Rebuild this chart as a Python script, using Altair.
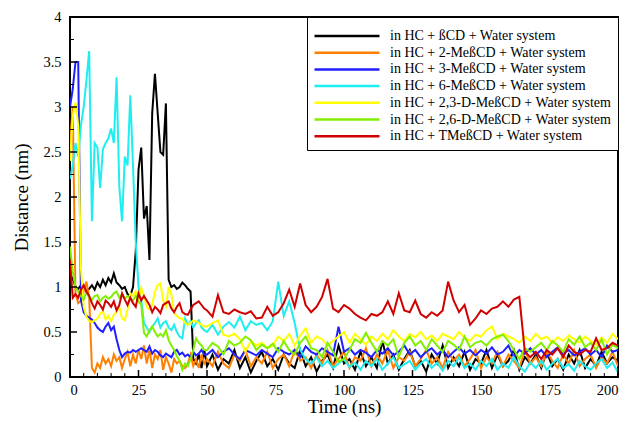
import altair as alt
import pandas as pd

SERIES = [
    "in HC + ßCD + Water system",
    "in HC + 2-MeßCD + Water system",
    "in HC + 3-MeßCD + Water system",
    "in HC + 6-MeßCD + Water system",
    "in HC + 2,3-D-MeßCD + Water system",
    "in HC + 2,6-D-MeßCD + Water system",
    "in HC + TMeßCD + Water system",
]
COLORS = ["#000000", "#FF8000", "#1F1FFF", "#1EEEF0", "#FFFF00", "#80F000", "#D00000"]

# time grid (ns): 1 ns steps up to 49 ns, then 2 ns steps to 200 ns
T_EARLY = list(range(0, 50))
T_LATE = list(range(50, 201, 2))
TIME = T_EARLY + T_LATE

BETA = [
    1.05, 1.10, 1.00, 0.98, 1.02, 1.00, 0.95, 0.98, 1.02, 0.97,
    1.05, 1.00, 1.08, 1.02, 1.10, 1.05, 1.15, 1.05, 1.02, 0.98,
    1.00, 0.92, 0.90, 1.00, 1.40, 2.30, 2.55, 1.76, 1.90, 1.30,
    2.93, 3.37, 2.93, 2.50, 2.47, 3.04, 1.08, 1.00, 1.02, 0.98,
    1.00, 1.05, 1.02, 0.98, 0.95, 0.20, 0.15, 0.25, 0.10, 0.30,
    0.12, 0.25, 0.08, 0.20, 0.15, 0.30, 0.10, 0.22, 0.05, 0.18,
    0.28, 0.12, 0.20, 0.08, 0.25, 0.15, 0.10, 0.30, 0.12, 0.22,
    0.06, 0.18, 0.25, 0.10, 0.35, 0.15, 0.20, 0.08, 0.28, 0.12,
    0.22, 0.10, 0.40, 0.15, 0.25, 0.08, 0.20, 0.30, 0.12, 0.18,
    0.06, 0.25, 0.15, 0.35, 0.10, 0.22, 0.12, 0.28, 0.08, 0.20,
    0.15, 0.30, 0.10, 0.25, 0.12, 0.18, 0.30, 0.08, 0.22, 0.15,
    0.25, 0.10, 0.28, 0.12, 0.20, 0.08, 0.25, 0.15, 0.30, 0.10,
    0.20, 0.12, 0.28, 0.15, 0.22, 0.18,
]
ME2 = [
    2.60, 3.00, 0.92, 0.82, 0.85, 0.95, 1.06, 0.88, 0.10, 0.05,
    0.15, 0.10, 0.22, 0.15, 0.20, 0.12, 0.25, 0.18, 0.22, 0.10,
    0.20, 0.28, 0.12, 0.25, 0.15, 0.30, 0.20, 0.35, 0.15, 0.30,
    0.10, 0.25, 0.20, 0.30, 0.08, 0.22, 0.15, 0.05, 0.20, 0.15,
    0.18, 0.12, 0.10, 0.15, 0.25, 0.12, 0.20, 0.10, 0.25, 0.15,
    0.20, 0.12, 0.28, 0.15, 0.10, 0.25, 0.18, 0.30, 0.12, 0.22,
    0.15, 0.28, 0.10, 0.20, 0.25, 0.12, 0.30, 0.18, 0.22, 0.10,
    0.25, 0.15, 0.30, 0.12, 0.20, 0.28, 0.10, 0.22, 0.18, 0.32,
    0.12, 0.25, 0.15, 0.30, 0.10, 0.22, 0.18, 0.28, 0.12, 0.20,
    0.30, 0.15, 0.22, 0.10, 0.28, 0.18, 0.25, 0.12, 0.20, 0.30,
    0.10, 0.22, 0.15, 0.28, 0.12, 0.25, 0.18, 0.10, 0.30, 0.15,
    0.22, 0.12, 0.28, 0.18, 0.10, 0.25, 0.15, 0.30, 0.12, 0.20,
    0.25, 0.10, 0.22, 0.15, 0.28, 0.12,
]
ME3 = [
    3.00, 3.20, 3.50, 3.50, 0.85, 0.72, 0.68, 0.66, 0.64, 0.60,
    0.55, 0.52, 0.50, 0.56, 0.60, 0.52, 0.56, 0.42, 0.30, 0.22,
    0.26, 0.28, 0.27, 0.30, 0.28, 0.30, 0.32, 0.30, 0.28, 0.34,
    0.26, 0.30, 0.28, 0.24, 0.22, 0.26, 0.24, 0.22, 0.28, 0.30,
    0.25, 0.27, 0.23, 0.25, 0.22, 0.28, 0.24, 0.26, 0.30, 0.25,
    0.25, 0.30, 0.22, 0.28, 0.32, 0.25, 0.20, 0.30, 0.27, 0.24,
    0.30, 0.26, 0.22, 0.32, 0.28, 0.25, 0.30, 0.22, 0.34, 0.28,
    0.25, 0.32, 0.28, 0.24, 0.56, 0.28, 0.32, 0.25, 0.30, 0.27,
    0.22, 0.30, 0.26, 0.32, 0.24, 0.28, 0.35, 0.25, 0.30, 0.22,
    0.28, 0.32, 0.25, 0.30, 0.22, 0.28, 0.33, 0.26, 0.30, 0.24,
    0.30, 0.26, 0.33, 0.25, 0.28, 0.35, 0.22, 0.30, 0.26, 0.32,
    0.25, 0.30, 0.22, 0.28, 0.33, 0.26, 0.30, 0.24, 0.28, 0.32,
    0.25, 0.30, 0.22, 0.35, 0.28, 0.30,
]
ME6 = [
    2.20, 2.35, 2.60, 2.45, 2.80, 3.00, 3.30, 3.62, 1.73, 2.60,
    2.55, 2.10, 2.53, 2.60, 2.65, 2.76, 2.60, 3.33, 2.11, 1.73,
    2.45, 2.35, 3.13, 2.34, 1.50, 1.00, 0.85, 0.60, 0.55, 0.50,
    0.56, 0.60, 0.65, 0.55, 0.60, 0.62, 0.55, 0.52, 0.58, 0.50,
    0.45, 0.43, 0.65, 0.58, 0.62, 0.55, 0.60, 0.63, 0.55, 0.52,
    0.50, 0.58, 0.47, 0.56, 0.61, 0.55, 0.67, 0.52, 0.62, 0.58,
    0.60, 0.52, 0.62, 1.06, 0.68, 0.84, 0.60, 0.30, 0.20, 0.15,
    0.22, 0.12, 0.18, 0.10, 0.15, 0.20, 0.11, 0.16, 0.08, 0.18,
    0.12, 0.20, 0.08, 0.15, 0.22, 0.10, 0.14, 0.18, 0.08, 0.15,
    0.20, 0.10, 0.16, 0.07, 0.18, 0.12, 0.22, 0.10, 0.15, 0.08,
    0.18, 0.12, 0.20, 0.08, 0.15, 0.10, 0.22, 0.12, 0.06, 0.16,
    0.10, 0.18, 0.08, 0.15, 0.20, 0.10, 0.14, 0.07, 0.18, 0.12,
    0.08, 0.15, 0.20, 0.10, 0.16, 0.05,
]
DME23 = [
    2.40, 2.90, 3.05, 2.80, 1.20, 0.78, 0.67, 0.62, 0.61, 0.63,
    0.65, 0.70, 0.73, 0.64, 0.68, 0.62, 0.69, 0.72, 0.78, 0.65,
    0.63, 0.75, 0.93, 0.90, 0.95, 0.85, 0.99, 0.90, 0.78, 0.75,
    0.80, 0.95, 1.02, 1.04, 0.85, 0.78, 1.00, 0.92, 0.71, 0.68,
    0.65, 0.65, 0.60, 0.58, 0.60, 0.63, 0.62, 0.60, 0.58, 0.56,
    0.56, 0.60, 0.63, 0.47, 0.45, 0.48, 0.42, 0.28, 0.40, 0.35,
    0.38, 0.32, 0.35, 0.45, 0.40, 0.48, 0.35, 0.46, 0.54, 0.38,
    0.45, 0.42, 0.35, 0.40, 0.45, 0.50, 0.38, 0.48, 0.42, 0.36,
    0.45, 0.40, 0.48, 0.42, 0.52, 0.45, 0.40, 0.48, 0.44, 0.50,
    0.42, 0.46, 0.40, 0.48, 0.45, 0.42, 0.50, 0.44, 0.40, 0.47,
    0.45, 0.52, 0.56, 0.42, 0.48, 0.45, 0.42, 0.38, 0.45, 0.40,
    0.48, 0.42, 0.45, 0.38, 0.44, 0.40, 0.46, 0.42, 0.38, 0.45,
    0.40, 0.36, 0.44, 0.38, 0.48, 0.42,
]
DME26 = [
    1.45, 1.17, 1.00, 0.95, 0.90, 0.86, 0.95, 0.88, 0.86, 0.90,
    0.91, 0.84, 0.88, 0.90, 0.87, 0.89, 0.93, 0.95, 0.88, 0.92,
    0.87, 0.90, 0.88, 0.85, 0.90, 0.84, 0.80, 0.49, 0.45, 0.52,
    0.56, 0.50, 0.45, 0.48, 0.45, 0.52, 0.41, 0.35, 0.30, 0.23,
    0.18, 0.08, 0.15, 0.12, 0.20, 0.30, 0.43, 0.38, 0.35, 0.30,
    0.30, 0.38, 0.34, 0.25, 0.40, 0.35, 0.38, 0.45, 0.41, 0.30,
    0.36, 0.32, 0.37, 0.28, 0.40, 0.30, 0.25, 0.38, 0.45, 0.32,
    0.30, 0.22, 0.38, 0.28, 0.17, 0.20, 0.30, 0.42, 0.38, 0.49,
    0.38, 0.28, 0.40, 0.35, 0.42, 0.22, 0.38, 0.45, 0.35, 0.40,
    0.30, 0.42, 0.35, 0.28, 0.40, 0.36, 0.30, 0.45, 0.33, 0.38,
    0.40, 0.35, 0.42, 0.45, 0.47, 0.40, 0.30, 0.20, 0.32, 0.28,
    0.33, 0.38, 0.30, 0.40, 0.35, 0.28, 0.42, 0.36, 0.45, 0.33,
    0.38, 0.30, 0.42, 0.25, 0.36, 0.32,
]
TME = [
    1.30, 0.88, 0.92, 0.88, 0.97, 1.02, 0.95, 0.90, 0.82, 0.76,
    0.84, 0.80, 0.75, 0.85, 0.82, 0.78, 0.84, 0.74, 0.80, 0.93,
    0.86, 0.80, 0.88, 0.82, 0.78, 0.93, 0.85, 0.90, 0.85, 0.80,
    0.72, 0.78, 0.75, 0.71, 0.80, 0.82, 0.84, 0.76, 0.72, 0.78,
    0.82, 0.72, 0.70, 0.69, 0.75, 0.80, 0.82, 0.84, 0.80, 0.76,
    0.74, 0.67, 0.91, 0.72, 0.70, 0.75, 0.72, 0.70, 0.73, 0.65,
    0.66, 0.78, 0.68, 0.72, 0.82, 0.97, 0.78, 1.04, 0.80, 0.72,
    0.78, 0.89, 1.09, 0.76, 0.72, 0.80, 0.76, 0.70, 0.66, 0.63,
    0.70, 0.68, 0.72, 0.84, 0.70, 0.93, 0.74, 0.72, 0.85, 0.70,
    0.66, 0.72, 0.68, 0.74, 1.06, 0.85, 0.72, 0.80, 0.58, 0.65,
    0.74, 0.70, 0.76, 0.78, 0.84, 0.78, 0.86, 0.89, 0.28, 0.22,
    0.28, 0.20, 0.30, 0.25, 0.32, 0.22, 0.35, 0.28, 0.25, 0.30,
    0.28, 0.43, 0.30, 0.32, 0.38, 0.35,
]
VALUES = [BETA, ME2, ME3, ME6, DME23, DME26, TME]

X_LABELS = [0, 25, 50, 75, 100, 125, 150, 175, 200]
Y_LABELS = [0, 0.5, 1, 1.5, 2, 2.5, 3, 3.5, 4]
X_MINOR = [5, 10, 15, 20, 30, 35, 40, 45, 55, 60, 65, 70, 80, 85, 90, 95, 105, 110,
           115, 120, 130, 135, 140, 145, 155, 160, 165, 170, 180, 185, 190, 195]
Y_MINOR = [0.25, 0.75, 1.25, 1.75, 2.25, 2.75, 3.25, 3.75]

rows = []
for name, vals in zip(SERIES, VALUES):
    for t, v in zip(TIME, vals):
        rows.append({"series": name, "t": t, "d": v})
df = pd.DataFrame(rows)

FONT = "Liberation Serif, Times New Roman, serif"
W, H = 548, 360
xs = alt.Scale(domain=[0, 200], nice=False, zero=False)
ys = alt.Scale(domain=[0, 4], nice=False, zero=False)

common = dict(ticks=False, domain=False, grid=False, format="~f",
              labelFont=FONT, labelFontSize=14.5, labelColor="black",
              titleFont=FONT, titleFontSize=19, titleFontWeight="normal", titleColor="black")
x_axis = alt.Axis(values=X_LABELS, title="Time (ns)", labelPadding=6, titlePadding=1, **common)
y_axis = alt.Axis(values=Y_LABELS, title="Distance (nm)", labelPadding=9, titlePadding=11, **common)

lines = alt.Chart(df).mark_line(strokeWidth=2, clip=True).encode(
    x=alt.X("t:Q", scale=xs, axis=x_axis),
    y=alt.Y("d:Q", scale=ys, axis=y_axis),
    color=alt.Color(
        "series:N",
        scale=alt.Scale(domain=SERIES, range=COLORS),
        sort=SERIES,
        legend=alt.Legend(
            title=" ", titleFontSize=5, titlePadding=0,
            orient="none", legendX=237, legendY=0, padding=6,
            strokeColor="black", fillColor="white",
            symbolType="M-1,0H9", symbolSize=169, symbolStrokeWidth=2.5,
            labelFont=FONT, labelFontSize=14, labelColor="black", labelOffset=61,
            labelLimit=500, rowPadding=1.7,
        ),
    ),
)

xmaj = pd.DataFrame({"t": X_LABELS})
xmin = pd.DataFrame({"t": X_MINOR})
ymaj = pd.DataFrame({"d": Y_LABELS})
ymin = pd.DataFrame({"d": Y_MINOR})

xt_major = alt.Chart(xmaj).mark_rule(color="black", strokeWidth=1.5).encode(
    x=alt.X("t:Q", scale=xs, axis=x_axis), y=alt.value(H), y2=alt.value(H - 7))
xt_minor = alt.Chart(xmin).mark_rule(color="black", strokeWidth=1).encode(
    x=alt.X("t:Q", scale=xs, axis=x_axis), y=alt.value(H), y2=alt.value(H - 4))
yt_major = alt.Chart(ymaj).mark_rule(color="black", strokeWidth=1.5).encode(
    y=alt.Y("d:Q", scale=ys, axis=y_axis), x=alt.value(0), x2=alt.value(7))
yt_minor = alt.Chart(ymin).mark_rule(color="black", strokeWidth=1).encode(
    y=alt.Y("d:Q", scale=ys, axis=y_axis), x=alt.value(0), x2=alt.value(4))

chart = alt.layer(lines, xt_major, xt_minor, yt_major, yt_minor).properties(
    width=W, height=H,
    autosize=alt.AutoSizeParams(type="none"),
    padding={"left": 62, "top": 9, "right": 2, "bottom": 40},
    background="white",
).configure(
    font=FONT
).configure_view(
    stroke="black", strokeWidth=2
)

chart.save("out.html", embed_options={"renderer": "svg", "actions": False})
